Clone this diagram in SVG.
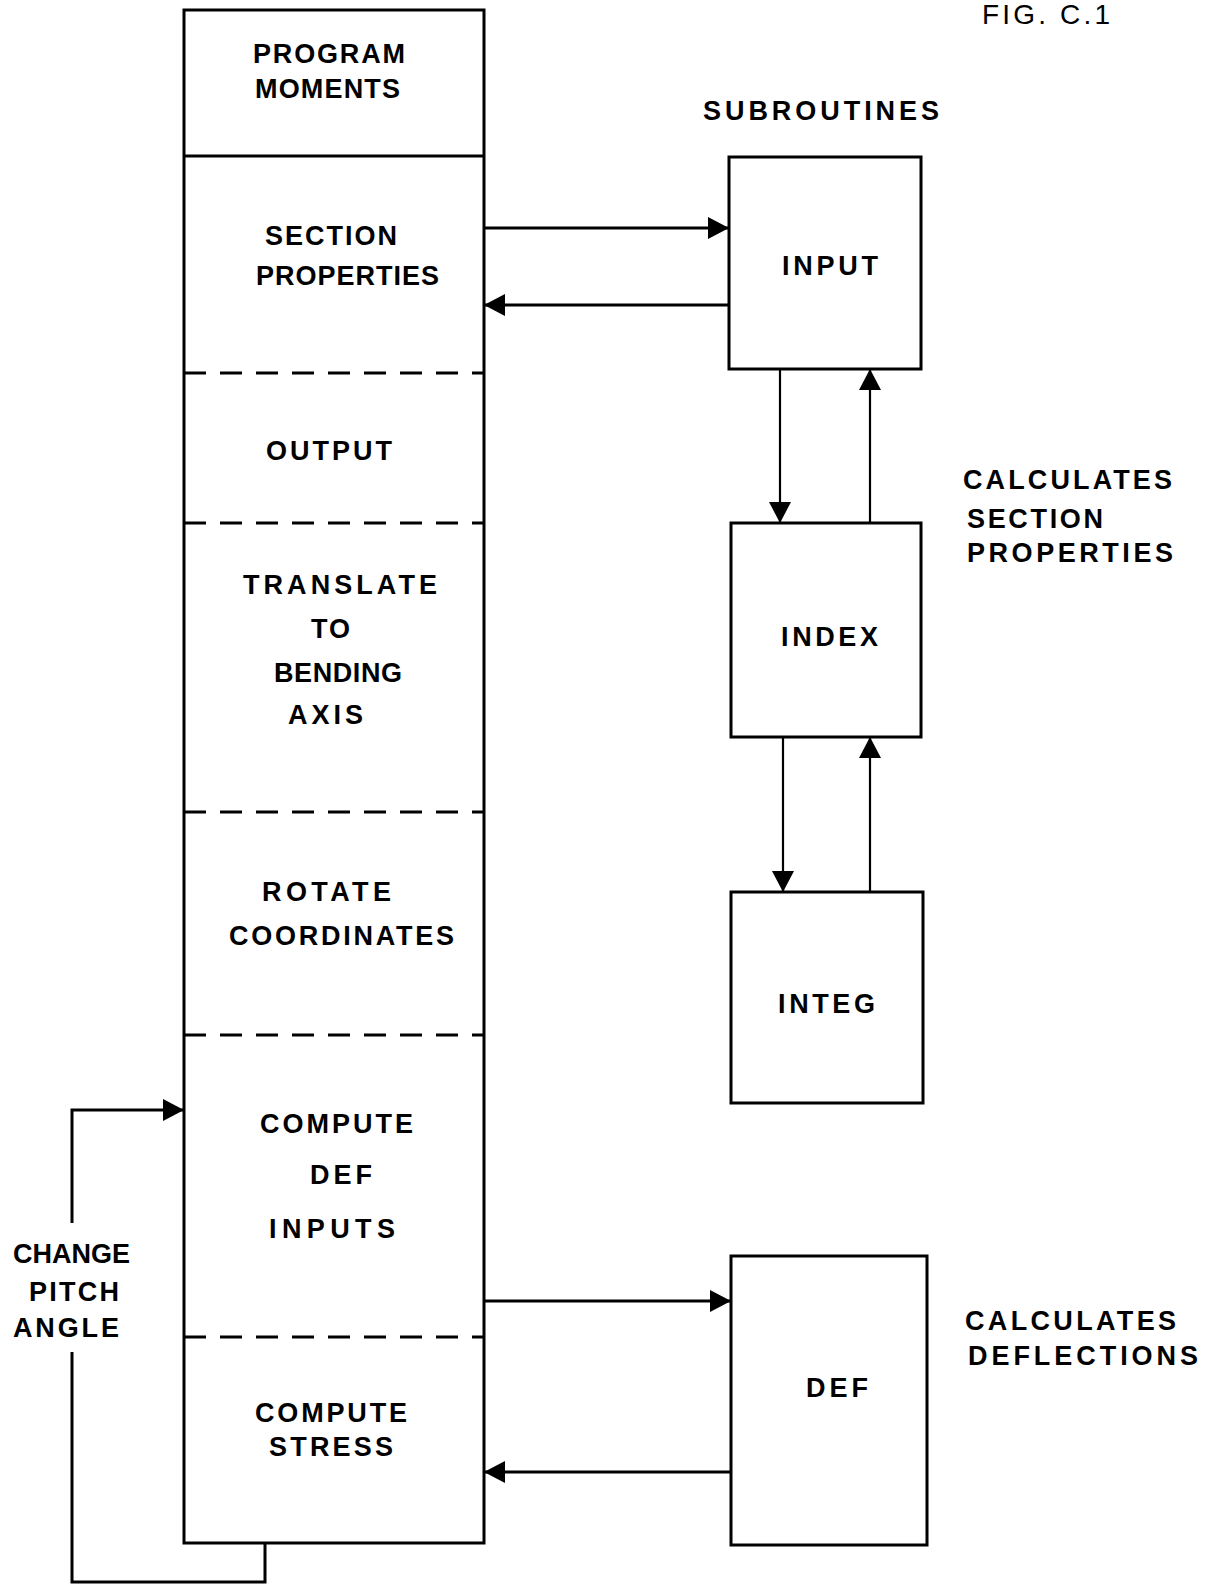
<svg xmlns="http://www.w3.org/2000/svg" width="1208" height="1585" viewBox="0 0 1208 1585">
<style>
.bg{fill:#fff}
.box{fill:none;stroke:#000;stroke-width:3}
.sep{fill:none;stroke:#000;stroke-width:3}
.dash{fill:none;stroke:#000;stroke-width:3;stroke-dasharray:22 14}
.t{font-family:"Liberation Sans",Arial,sans-serif;font-weight:bold;font-size:27px;fill:#000}
.fig{font-family:"Liberation Sans",Arial,sans-serif;font-weight:normal;font-size:28px;fill:#000}
.c{fill:none;stroke:#000;stroke-width:3}
.cv{fill:none;stroke:#000;stroke-width:2.2}
</style>
<defs>
<marker id="ah" markerUnits="userSpaceOnUse" markerWidth="22" markerHeight="22" refX="21" refY="11" orient="auto" viewBox="0 0 22 22">
<path d="M0,0 L21,11 L0,22 Z" fill="#000"/>
</marker>
</defs>
<rect class="bg" x="0" y="0" width="1208" height="1585"/>

<g id="fig-title">
<text class="fig" x="982" y="24" textLength="128" lengthAdjust="spacing">FIG. C.1</text>
</g>

<g id="main-program">
<rect class="box" x="184" y="10" width="300" height="1533"/>
<line class="sep" x1="184" y1="156" x2="484" y2="156"/>
<line class="dash" x1="184" y1="373" x2="484" y2="373"/>
<line class="dash" x1="184" y1="523" x2="484" y2="523"/>
<line class="dash" x1="184" y1="812" x2="484" y2="812"/>
<line class="dash" x1="184" y1="1035" x2="484" y2="1035"/>
<line class="dash" x1="184" y1="1337" x2="484" y2="1337"/>
<text class="t" x="253" y="63" textLength="152" lengthAdjust="spacing">PROGRAM</text>
<text class="t" x="255" y="98" textLength="145" lengthAdjust="spacing">MOMENTS</text>
</g>

<g id="sec-section-properties">
<text class="t" x="265" y="245" textLength="132" lengthAdjust="spacing">SECTION</text>
<text class="t" x="256" y="285" textLength="183" lengthAdjust="spacing">PROPERTIES</text>
</g>
<g id="sec-output">
<text class="t" x="266" y="460" textLength="126" lengthAdjust="spacing">OUTPUT</text>
</g>
<g id="sec-translate">
<text class="t" x="243" y="594" textLength="194" lengthAdjust="spacing">TRANSLATE</text>
<text class="t" x="311" y="638" textLength="39" lengthAdjust="spacing">TO</text>
<text class="t" x="274" y="682" textLength="128" lengthAdjust="spacing">BENDING</text>
<text class="t" x="288" y="724" textLength="75" lengthAdjust="spacing">AXIS</text>
</g>
<g id="sec-rotate">
<text class="t" x="262" y="901" textLength="129" lengthAdjust="spacing">ROTATE</text>
<text class="t" x="229" y="945" textLength="225" lengthAdjust="spacing">COORDINATES</text>
</g>
<g id="sec-compute-def">
<text class="t" x="260" y="1133" textLength="153" lengthAdjust="spacing">COMPUTE</text>
<text class="t" x="310" y="1184" textLength="62" lengthAdjust="spacing">DEF</text>
<text class="t" x="269" y="1238" textLength="126" lengthAdjust="spacing">INPUTS</text>
</g>
<g id="sec-compute-stress">
<text class="t" x="255" y="1422" textLength="152" lengthAdjust="spacing">COMPUTE</text>
<text class="t" x="269" y="1456" textLength="124" lengthAdjust="spacing">STRESS</text>
</g>

<g id="label-change-pitch">
<text class="t" x="13" y="1263" textLength="117" lengthAdjust="spacing">CHANGE</text>
<text class="t" x="29" y="1301" textLength="90" lengthAdjust="spacing">PITCH</text>
<text class="t" x="13" y="1337" textLength="106" lengthAdjust="spacing">ANGLE</text>
</g>

<g id="label-subroutines">
<text class="t" x="703" y="120" textLength="236" lengthAdjust="spacing">SUBROUTINES</text>
</g>

<g id="node-input">
<rect class="box" x="729" y="157" width="192" height="212"/>
<text class="t" x="782" y="275" textLength="96" lengthAdjust="spacing">INPUT</text>
</g>
<g id="node-index">
<rect class="box" x="731" y="523" width="190" height="214"/>
<text class="t" x="781" y="646" textLength="97" lengthAdjust="spacing">INDEX</text>
</g>
<g id="node-integ">
<rect class="box" x="731" y="892" width="192" height="211"/>
<text class="t" x="778" y="1013" textLength="97" lengthAdjust="spacing">INTEG</text>
</g>
<g id="node-def">
<rect class="box" x="731" y="1256" width="196" height="289"/>
<text class="t" x="806" y="1397" textLength="62" lengthAdjust="spacing">DEF</text>
</g>

<g id="label-calc-section">
<text class="t" x="963" y="489" textLength="209" lengthAdjust="spacing">CALCULATES</text>
<text class="t" x="967" y="528" textLength="136" lengthAdjust="spacing">SECTION</text>
<text class="t" x="967" y="562" textLength="206" lengthAdjust="spacing">PROPERTIES</text>
</g>
<g id="label-calc-deflections">
<text class="t" x="965" y="1330" textLength="211" lengthAdjust="spacing">CALCULATES</text>
<text class="t" x="968" y="1365" textLength="230" lengthAdjust="spacing">DEFLECTIONS</text>
</g>

<g id="connectors">
<path class="c" d="M484,228 H729" marker-end="url(#ah)"/>
<path class="c" d="M729,305 H484" marker-end="url(#ah)"/>
<path class="cv" d="M780,369 V523" marker-end="url(#ah)"/>
<path class="cv" d="M870,523 V369" marker-end="url(#ah)"/>
<path class="cv" d="M783,737 V892" marker-end="url(#ah)"/>
<path class="cv" d="M870,892 V737" marker-end="url(#ah)"/>
<path class="c" d="M484,1301 H731" marker-end="url(#ah)"/>
<path class="c" d="M731,1472 H484" marker-end="url(#ah)"/>
<path class="c" d="M265,1543 V1582 H72 V1352"/>
<path class="c" d="M72,1223 V1110 H184" marker-end="url(#ah)"/>
</g>
</svg>
